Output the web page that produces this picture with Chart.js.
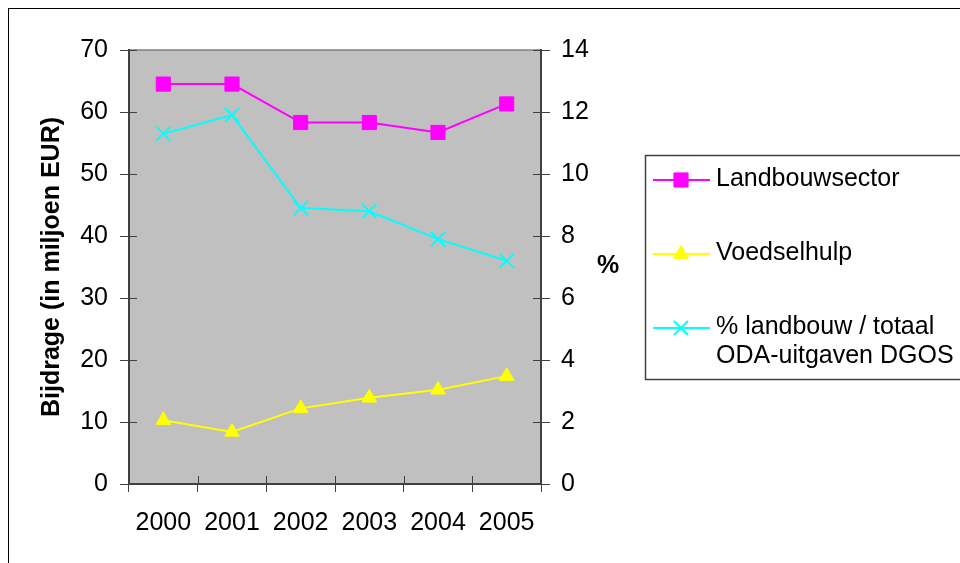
<!DOCTYPE html>
<html>
<head>
<meta charset="utf-8">
<title>Bijdrage landbouw</title>
<script src="https://cdn.jsdelivr.net/npm/chart.js"></script>
<style>
  html, body { margin: 0; padding: 0; background: #ffffff; }
  canvas { display: block; }
</style>
</head>
<body>
<canvas id="landbouwChart" width="960" height="563"></canvas>
<script>
// values
var years = ['2000', '2001', '2002', '2003', '2004', '2005'];
var landbouwsector = [64.5, 64.5, 58.3, 58.3, 56.7, 61.3];
var voedselhulp = [10.3, 8.4, 12.2, 13.9, 15.2, 17.4];
var pctLandbouw = [11.3, 11.9, 8.9, 8.8, 7.9, 7.2];

var legendLabels = [
  ['Landbouwsector'],
  ['Voedselhulp'],
  ['% landbouw / totaal', 'ODA-uitgaven DGOS']
];

var axisColor = '#404040';
var fontFamily = "'Liberation Sans', Arial, sans-serif";

document.addEventListener('DOMContentLoaded', function() {

  // gray plot area, outer frame and inner halves of the tick marks
  var backgroundPlugin = {
    id: 'plotBackground',
    beforeDraw: function(chart) {
      var ctx = chart.ctx;
      var a = chart.chartArea;
      ctx.save();
      ctx.fillStyle = '#ffffff';
      ctx.fillRect(0, 0, chart.width, chart.height);
      ctx.strokeStyle = '#000000';
      ctx.lineWidth = 1;
      ctx.strokeRect(8.5, 8.5, chart.width + 20, chart.height + 20);
      ctx.fillStyle = '#c0c0c0';
      ctx.fillRect(a.left, a.top, a.right - a.left, a.bottom - a.top);
      ctx.strokeStyle = '#808080';
      ctx.lineWidth = 1.5;
      ctx.beginPath();
      ctx.moveTo(a.left, a.top);
      ctx.lineTo(a.right, a.top);
      ctx.stroke();
      ctx.restore();
    },
    beforeDatasetsDraw: function(chart) {
      var ctx = chart.ctx;
      var a = chart.chartArea;
      var sx = chart.scales.x;
      var sy = chart.scales.y;
      var sy1 = chart.scales.y1;
      ctx.save();
      ctx.strokeStyle = axisColor;
      ctx.lineWidth = 1;
      ctx.beginPath();
      sy.ticks.forEach(function(t) {
        var py = Math.round(sy.getPixelForValue(t.value)) + 0.5;
        ctx.moveTo(a.left, py);
        ctx.lineTo(a.left + 8, py);
      });
      sy1.ticks.forEach(function(t) {
        var py = Math.round(sy1.getPixelForValue(t.value)) + 0.5;
        ctx.moveTo(a.right - 8, py);
        ctx.lineTo(a.right, py);
      });
      var step = sx.getPixelForTick(1) - sx.getPixelForTick(0);
      for (var i = 0; i <= years.length; i++) {
        var px = Math.round(sx.getPixelForTick(0) - step / 2 + i * step) + 0.5;
        ctx.moveTo(px, a.bottom - 8);
        ctx.lineTo(px, a.bottom);
      }
      ctx.stroke();
      ctx.restore();
    },
    afterDraw: function(chart) {
      var ctx = chart.ctx;
      var sy1 = chart.scales.y1;
      ctx.save();

      // "%" title of the right axis, not rotated
      ctx.fillStyle = '#000000';
      ctx.font = 'bold 25px ' + fontFamily;
      ctx.textAlign = 'center';
      ctx.textBaseline = 'middle';
      ctx.fillText('%', sy1.left + 67, (chart.chartArea.top + chart.chartArea.bottom) / 2 - 1);

      // legend box
      ctx.strokeStyle = axisColor;
      ctx.lineWidth = 1.5;
      ctx.strokeRect(645.5, 155.5, 340, 224);

      var rowY = [180, 254, 328];
      ctx.font = '25px ' + fontFamily;
      ctx.textAlign = 'left';
      chart.data.datasets.forEach(function(ds, i) {
        var y = rowY[i];
        ctx.strokeStyle = ds.borderColor;
        ctx.fillStyle = ds.pointBackgroundColor;
        ctx.lineWidth = 2;
        ctx.beginPath();
        ctx.moveTo(653, y);
        ctx.lineTo(710, y);
        ctx.stroke();
        ctx.lineWidth = ds.pointBorderWidth;
        ctx.strokeStyle = ds.pointBorderColor;
        Chart.helpers.drawPoint(ctx, {
          pointStyle: ds.pointStyle,
          radius: ds.pointRadius,
          borderWidth: ds.pointBorderWidth,
          rotation: 0
        }, 681, y);
        ctx.fillStyle = '#000000';
        legendLabels[i].forEach(function(line, j) {
          ctx.fillText(line, 716, y - 1 + j * 29);
        });
      });
      ctx.restore();
    }
  };

  var ctxLandbouw = document.getElementById('landbouwChart').getContext('2d');

  var dataLandbouw = {
    labels: years,
    datasets: [{
      label: 'Landbouwsector',
      data: landbouwsector,
      yAxisID: 'y',
      borderColor: '#ff00ff',
      borderWidth: 2,
      pointStyle: 'rect',
      pointRadius: 10,
      pointBackgroundColor: '#ff00ff',
      pointBorderColor: '#ff00ff',
      pointBorderWidth: 1
    }, {
      label: 'Voedselhulp',
      data: voedselhulp,
      yAxisID: 'y',
      borderColor: '#ffff00',
      borderWidth: 2,
      pointStyle: 'triangle',
      pointRadius: 8.5,
      pointBackgroundColor: '#ffff00',
      pointBorderColor: '#ffff00',
      pointBorderWidth: 1
    }, {
      label: '% landbouw / totaal ODA-uitgaven DGOS',
      data: pctLandbouw,
      yAxisID: 'y1',
      borderColor: '#00ffff',
      borderWidth: 2,
      pointStyle: 'crossRot',
      pointRadius: 10,
      pointBackgroundColor: '#00ffff',
      pointBorderColor: '#00ffff',
      pointBorderWidth: 2
    }]
  };

  var optionsLandbouw = {
    responsive: false,
    animation: false,
    devicePixelRatio: 1,
    layout: {
      padding: { top: 50, left: 0, right: 339, bottom: 0 }
    },
    elements: {
      line: { tension: 0 }
    },
    plugins: {
      legend: { display: false },
      tooltip: { enabled: false }
    },
    scales: {
      x: {
        type: 'category',
        offset: true,
        grid: {
          offset: true,
          drawOnChartArea: false,
          tickLength: 8,
          color: axisColor
        },
        border: { color: axisColor, width: 2 },
        ticks: {
          color: '#000000',
          padding: 16,
          maxRotation: 0,
          font: { family: fontFamily, size: 25 }
        },
        afterFit: function(scale) { scale.height = 79; }
      },
      y: {
        position: 'left',
        min: 0,
        max: 70,
        grid: {
          drawOnChartArea: false,
          tickLength: 9,
          color: axisColor
        },
        border: { color: axisColor, width: 2 },
        ticks: {
          stepSize: 10,
          color: '#000000',
          padding: 12,
          font: { family: fontFamily, size: 25 }
        },
        title: {
          display: true,
          text: 'Bijdrage (in miljoen EUR)',
          color: '#000000',
          padding: { top: 37, bottom: 0 },
          font: { family: fontFamily, size: 25, weight: 'bold' }
        },
        afterFit: function(scale) { scale.width = 129; }
      },
      y1: {
        position: 'right',
        min: 0,
        max: 14,
        grid: {
          drawOnChartArea: false,
          tickLength: 9,
          color: axisColor
        },
        border: { color: axisColor, width: 2 },
        ticks: {
          stepSize: 2,
          color: '#000000',
          padding: 11,
          font: { family: fontFamily, size: 25 }
        },
        afterFit: function(scale) { scale.width = 80; }
      }
    }
  };

  var landbouwChart = new Chart(ctxLandbouw, {
    type: 'line',
    data: dataLandbouw,
    options: optionsLandbouw,
    plugins: [backgroundPlugin]
  });

});
</script>
</body>
</html>
